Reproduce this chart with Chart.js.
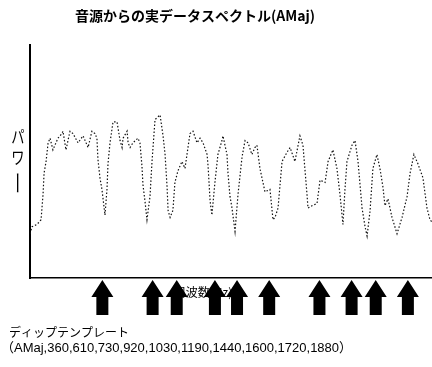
<!DOCTYPE html>
<html>
<head>
<meta charset="utf-8">
<script src="https://cdn.jsdelivr.net/npm/chart.js@4"></script>
<style>
  html, body { margin: 0; padding: 0; background: #fff; }
  canvas { display: block; }
</style>
</head>
<body>
<canvas id="spec" width="432" height="367"></canvas>
<script>
const TITLE = '音源からの実データスペクトル(AMaj)';
const Y_LABEL = ['パ', 'ワ', 'ー'];
const X_LABEL = '周波数(Hz)';
const TEMPLATE_NAME = 'ディップテンプレート';
const TEMPLATE_TEXT = '（AMaj,360,610,730,920,1030,1190,1440,1600,1720,1880）';

// frequency (Hz) of each traced point
const freq = [0,10,35,55,65,70,80,90,100,114,139,159,164,179,199,214,239,264,289,308,
  323,333,338,348,358,373,383,388,398,413,433,448,458,463,483,488,498,512,537,547,
  557,562,572,582,597,607,622,647,662,672,682,687,697,711,721,736,756,771,781,796,
  811,831,846,861,881,886,896,905,920,935,955,960,980,985,995,1005,1020,1035,1055,1070,
  1085,1104,1119,1129,1144,1169,1194,1209,1219,1234,1254,1279,1294,1318,1343,1358,1378,1383,1403,1428,
  1443,1468,1483,1507,1527,1542,1557,1567,1577,1602,1617,1632,1652,1667,1677,1692,1706,1726,1741,1756,
  1766,1781,1801,1826,1851,1876,1891,1910,1930,1955,1975,1990,2000];

// power (arbitrary units, 0-100)
const power = [19,22,23,25,36,45,50,58,60,55,60,62,63,55,63,62,58,61,56,63,
  62,60,51,43,38,27,38,49,58,67,67,59,56,60,63,58,56,58,60,58,
  48,40,33,25,35,50,68,70,61,53,39,29,26,29,41,46,50,47,53,62,
  63,58,60,58,53,48,33,27,41,53,59,61,53,45,35,30,20,36,52,59,
  58,53,56,57,47,37,38,25,26,30,50,54,56,50,61,57,36,30,31,32,
  42,41,50,55,47,36,23,38,50,57,59,50,30,22,18,29,47,53,47,39,
  31,34,26,19,26,35,45,53,49,43,30,25,24];

// dip template for AMaj (Hz)
const dipTemplate = [360, 610, 730, 920, 1030, 1190, 1440, 1600, 1720, 1880];

const JP = "'Noto Sans CJK JP', sans-serif";

const annotations = {
  id: 'annotations',
  afterDraw(chart){
    const { ctx, chartArea, scales: { x } } = chart;
    ctx.save();
    ctx.fillStyle = '#000';
    ctx.textAlign = 'center';
    ctx.textBaseline = 'middle';

    ctx.font = 'bold 14px ' + JP;
    ctx.fillText(TITLE, 195, 16);

    // vertical axis label, written top to bottom
    ctx.font = '17px ' + JP;
    [137, 158, 183].forEach((cy, i) => {
      ctx.save();
      ctx.translate(18, cy);
      if (Y_LABEL[i] === 'ー') {
        ctx.rotate(Math.PI / 2);
        ctx.scale(1.4, 0.9);
      } else {
        ctx.scale(0.78, 1);
      }
      ctx.fillText(Y_LABEL[i], 0, 0);
      ctx.restore();
    });

    ctx.font = '12px ' + JP;
    ctx.fillText(X_LABEL, 203, 292);

    // template arrows under the axis
    const b = chartArea.bottom;
    dipTemplate.forEach(f => {
      const cx = x.getPixelForValue(f);
      ctx.beginPath();
      ctx.moveTo(cx, b + 2);
      ctx.lineTo(cx + 11, b + 19);
      ctx.lineTo(cx + 6, b + 19);
      ctx.lineTo(cx + 6, b + 37);
      ctx.lineTo(cx - 6, b + 37);
      ctx.lineTo(cx - 6, b + 19);
      ctx.lineTo(cx - 11, b + 19);
      ctx.closePath();
      ctx.fill();
    });

    ctx.textAlign = 'left';
    ctx.font = '12px ' + JP;
    ctx.fillText(TEMPLATE_NAME, 9, 332);
    ctx.font = "13px 'Liberation Sans', " + JP;
    ctx.fillText(TEMPLATE_TEXT, 1, 348);
    ctx.restore();
  }
};

new Chart(document.getElementById('spec'), {
  type: 'line',
  data: {
    datasets: [{
      data: freq.map((f, i) => ({ x: f, y: power[i] })),
      borderColor: '#111',
      borderWidth: 1.2,
      borderDash: [1.5, 2],
      pointRadius: 0,
      tension: 0,
      fill: false
    }]
  },
  options: {
    responsive: false,
    animation: false,
    layout: { padding: { left: 30, top: 45, right: 0, bottom: 89 } },
    plugins: { legend: { display: false }, tooltip: { enabled: false } },
    scales: {
      x: {
        type: 'linear', min: 0, max: 2000,
        ticks: { display: false },
        grid: { display: false, drawTicks: false },
        border: { display: true, color: '#000', width: 1.5 }
      },
      y: {
        min: 0, max: 100,
        ticks: { display: false },
        grid: { display: false, drawTicks: false },
        border: { display: true, color: '#000', width: 2 }
      }
    }
  },
  plugins: [annotations]
});
</script>
</body>
</html>
